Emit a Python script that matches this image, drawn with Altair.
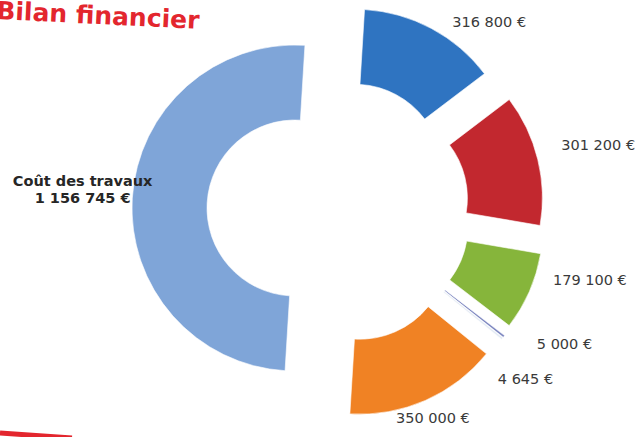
import math
import altair as alt
import pandas as pd

# ---- data ----
categories = ["Poste A", "Poste B", "Poste C", "Poste D", "Poste E", "Poste F", "Coût des travaux"]
values = [316800, 301200, 179100, 5000, 4645, 350000, 1156745]
colors = ["#2f74c1", "#c2282f", "#86b53b", "#7d87c0", "#e4ebf4", "#f08224", "#7fa5d8"]
title_text = "Bilan financier"

# ---- style / layout constants ----
W, H = 641, 437
CX, CY = 295, 208
R_OUT, R_IN = 163, 88
ROT = 3.5                      # whole chart slightly turned (degrees)
SHIFT_X, SHIFT_Y = 43, 5       # right half pulled away from the big arc
EXPLODE, EXPLODE_ROT = 44, -6  # radial explode of the right slices
LABEL_R = 210
ang_nudge = [13.9, 0.3, -8.9, -8.1, 5.0, 0.2, 3.6]
rad_nudge = [-9, 15, 7, 8, -2, -27, 4]


def fmt(v):
    return f"{v:,}".replace(",", " ") + " €"


total = sum(values)
rows = []
acc = 0.0
for i, (c, v) in enumerate(zip(categories, values)):
    t0 = acc / total * 2 * math.pi + math.radians(ROT)
    acc += v
    t1 = acc / total * 2 * math.pi + math.radians(ROT)
    mid = (t0 + t1) / 2
    right = i < len(values) - 1
    if right:
        d = mid + math.radians(EXPLODE_ROT)
        cx = CX + SHIFT_X + EXPLODE * math.sin(d)
        cy = CY + SHIFT_Y - EXPLODE * math.cos(d)
    else:
        cx, cy = CX, CY
    la = mid + math.radians(ang_nudge[i])
    lr = LABEL_R + rad_nudge[i]
    lbl = fmt(v) if right else f"{c}\n{fmt(v)}"
    rows.append(dict(cat=c, value=v, t0=t0, t1=t1, cx=cx, cy=cy,
                     lx=cx + lr * math.sin(la), ly=cy - lr * math.cos(la),
                     label=lbl, right=right))
df = pd.DataFrame(rows)

xs = alt.Scale(domain=[0, W], range=[0, W])
ys = alt.Scale(domain=[0, H], range=[0, H])

arcs = alt.Chart(df).mark_arc(radius=R_OUT, radius2=R_IN, stroke="#ffffff", strokeWidth=0.6).encode(
    x=alt.X("cx:Q", scale=xs, axis=None),
    y=alt.Y("cy:Q", scale=ys, axis=None),
    theta=alt.Theta("t0:Q", scale=None),
    theta2="t1:Q",
    color=alt.Color("cat:N", scale=alt.Scale(domain=categories, range=colors), legend=None),
)

val_labels = alt.Chart(df).transform_filter("datum.right").mark_text(
    font="DejaVu Sans", fontSize=14.5, color="#3a3a3a", align="center", baseline="middle"
).encode(
    x=alt.X("lx:Q", scale=xs, axis=None),
    y=alt.Y("ly:Q", scale=ys, axis=None),
    text="label:N",
)

big_label = alt.Chart(df).transform_filter("!datum.right").mark_text(
    font="DejaVu Sans", fontSize=14.5, fontWeight="bold", color="#262626",
    align="center", baseline="middle", lineBreak="\n", lineHeight=17
).encode(
    x=alt.X("lx:Q", scale=xs, axis=None),
    y=alt.Y("ly:Q", scale=ys, axis=None),
    text="label:N",
)

title = alt.Chart(pd.DataFrame({"t": [title_text]})).mark_text(
    font="DejaVu Sans", fontSize=25, fontWeight="bold", color="#e3262e",
    align="left", baseline="alphabetic", angle=2.8
).encode(x=alt.value(-4), y=alt.value(19), text="t:N")

swoosh = alt.Chart(pd.DataFrame({"k": [0]})).mark_rule(
    color="#e3262e", strokeWidth=5, strokeCap="butt"
).encode(x=alt.value(0), x2=alt.value(72), y=alt.value(433), y2=alt.value(438))

chart = alt.layer(arcs, val_labels, big_label, title, swoosh).properties(
    width=W, height=H, padding=0,
    autosize=alt.AutoSizeParams(type="none"),
    background="#ffffff",
).configure_view(stroke=None)

chart.save("out.html", embed_options={"renderer": "svg", "actions": False})
